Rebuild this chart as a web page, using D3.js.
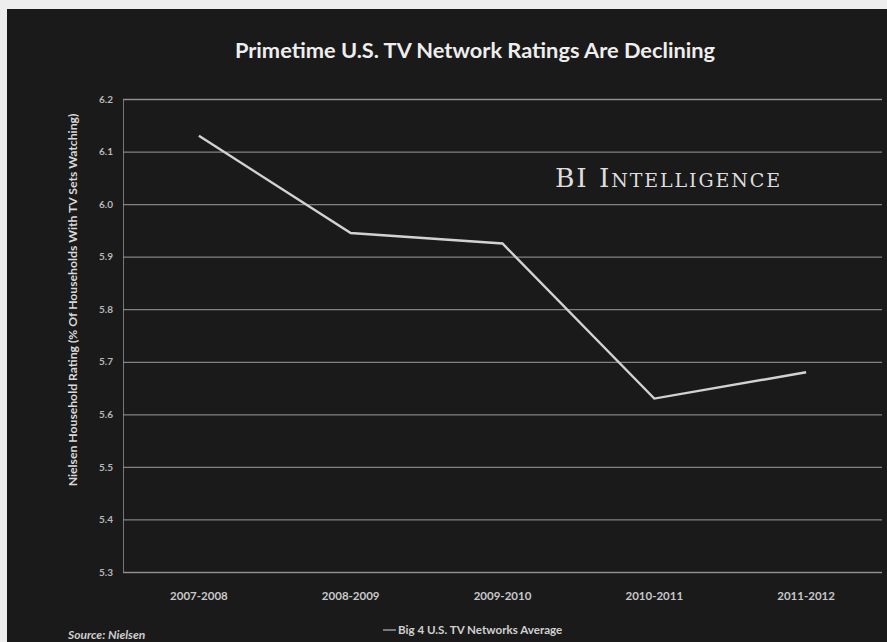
<!DOCTYPE html>
<html>
<head>
<meta charset="utf-8">
<script src="https://cdn.jsdelivr.net/npm/d3@7"></script>
<style>
  html, body { margin: 0; padding: 0; background: #eeeeee; }
  svg { display: block; }
</style>
</head>
<body>
<svg id="chart" width="887" height="642"></svg>
<script>
// Season labels along the x axis
const seasons = ["2007-2008", "2008-2009", "2009-2010", "2010-2011", "2011-2012"];
// Big 4 U.S. TV networks average primetime household rating
const ratings = [6.13, 5.945, 5.925, 5.63, 5.68];
// Y axis tick values
const yTicks = [5.3, 5.4, 5.5, 5.6, 5.7, 5.8, 5.9, 6.0, 6.1, 6.2];

const titleText = "Primetime U.S. TV Network Ratings Are Declining";
const yLabel = "Nielsen Household Rating (% Of Households With TV Sets Watching)";
const seriesName = "Big 4 U.S. TV Networks Average";
const sourceText = "Source: Nielsen";
const brandText = "BI Intelligence";

const W = 887, H = 642;
const svg = d3.select("#chart");
const font = "Lato, 'Open Sans', sans-serif";

// dark panel
svg.append("rect").attr("x", 7).attr("y", 9).attr("width", W - 7).attr("height", H - 9)
  .attr("fill", "#1a1a1a");

const plot = { left: 123, right: 882, top: 99, bottom: 572 };

const x = d3.scaleBand().domain(seasons).range([plot.left, plot.right]);
const y = d3.scaleLinear().domain([5.3, 6.2]).range([plot.bottom, plot.top]);

// gridlines
const gy = svg.append("g").attr("transform", `translate(${plot.left},0)`)
  .call(d3.axisLeft(y).tickValues(yTicks).tickSize(-(plot.right - plot.left)).tickFormat(d3.format(".1f")).tickPadding(10));
gy.select(".domain").attr("stroke", "#777").attr("stroke-width", 1);
gy.selectAll(".tick line").attr("stroke", "#959595").attr("stroke-width", 1.3).attr("opacity", 0.85);
gy.selectAll(".tick text").attr("fill", "#b8b8b8").attr("font-family", font)
  .attr("font-size", 10).attr("font-weight", 700);

// x axis labels
const gx = svg.append("g").attr("transform", `translate(0,${plot.bottom})`)
  .call(d3.axisBottom(x).tickSize(0).tickPadding(20));
gx.select(".domain").remove();
gx.selectAll(".tick text").attr("fill", "#c8c8c8").attr("font-family", font)
  .attr("font-size", 11.5).attr("font-weight", 700);

// series line
const line = d3.line()
  .x((d, i) => x(seasons[i]) + x.bandwidth() / 2)
  .y(d => y(d));
svg.append("path").datum(ratings).attr("d", line)
  .attr("fill", "none").attr("stroke", "#d2d2d2").attr("stroke-width", 2.4)
  .attr("stroke-linejoin", "miter");

// title
svg.append("text").attr("x", 475).attr("y", 58).attr("text-anchor", "middle")
  .attr("fill", "#eeeeee").attr("font-family", font).attr("font-weight", 700)
  .attr("font-size", 21.8).text(titleText);

// y axis title
svg.append("text").attr("transform", "translate(77,300) rotate(-90)")
  .attr("text-anchor", "middle").attr("fill", "#d8d8d8").attr("font-family", font)
  .attr("font-weight", 700).attr("font-size", 12.2).text(yLabel);

// brand mark
svg.append("text").attr("x", 555).attr("y", 187).attr("fill", "#dedede")
  .attr("font-family", "'DejaVu Serif', 'Liberation Serif', serif")
  .attr("font-size", 26.5).style("font-variant", "small-caps")
  .attr("textLength", 225).attr("lengthAdjust", "spacing")
  .text(brandText);

// legend
svg.append("line").attr("x1", 383).attr("x2", 396).attr("y1", 630).attr("y2", 630)
  .attr("stroke", "#9a9a9a").attr("stroke-width", 1.5);
svg.append("text").attr("x", 398).attr("y", 634).attr("fill", "#d0d0d0")
  .attr("font-family", font).attr("font-weight", 700).attr("font-size", 11.6).text(seriesName);

// source
svg.append("text").attr("x", 68).attr("y", 639).attr("fill", "#cfcfcf")
  .attr("font-family", font).attr("font-weight", 700).attr("font-style", "italic")
  .attr("font-size", 12).text(sourceText);
</script>
</body>
</html>
